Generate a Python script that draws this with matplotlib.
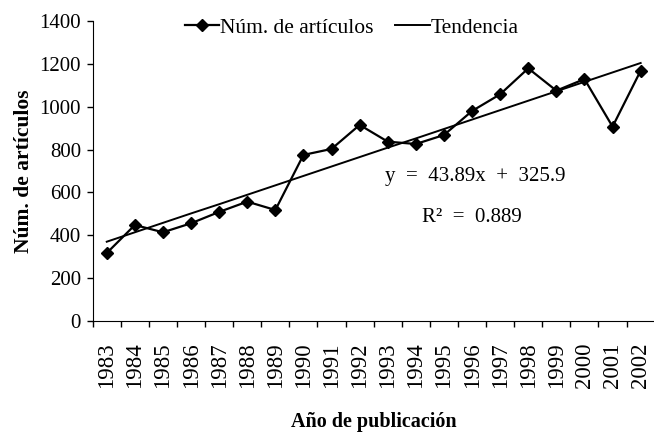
import matplotlib
import matplotlib.pyplot as plt

matplotlib.use("Agg")
plt.rcParams["font.family"] = ["Liberation Serif", "DejaVu Serif"]

years = [str(y) for y in range(1983, 2003)]
articles = [317, 448, 414, 456, 509, 557, 518, 775, 803, 915,
            837, 826, 868, 980, 1058, 1179, 1075, 1129, 907, 1168]
# trend values as drawn (y = 43.89x + 325.9)
trend = [370, 414, 458, 502, 545, 589, 633, 677, 721, 765,
         809, 852, 896, 940, 984, 1028, 1072, 1116, 1160, 1204]
yticks = [0, 200, 400, 600, 800, 1000, 1200, 1400]

fig = plt.figure(figsize=(6.54, 4.34), dpi=100)
ax = fig.add_axes([92.7 / 654, 113 / 434, 562 / 654, 300 / 434])

x = list(range(len(years)))
ax.plot(x, articles, color="black", linewidth=1.6, marker="D", markersize=6.5,
        label="Núm. de artículos")
ax.plot(x, trend, color="black", linewidth=1.4, label="Tendencia")

ax.set_xlim(-0.5, len(years) - 0.5)
ax.set_ylim(0, 1400)
ax.set_yticks(yticks)
ax.set_yticklabels([str(v) for v in yticks], fontsize=15)
ax.set_xticks([i - 0.5 for i in x] + [len(years) - 0.5], minor=False)
ax.set_xticklabels([""] * (len(years) + 1))
ax.set_xticks(x, minor=True)
ax.set_xticklabels(years, minor=True, rotation=90, fontsize=16.5)
ax.tick_params(axis="x", which="minor", length=0, pad=15.5)
ax.tick_params(axis="x", which="major", length=4.5, direction="out")
ax.tick_params(axis="y", length=4.5, direction="out", pad=4)
ax.tick_params(axis="both", width=1)
for side in ["top", "right"]:
    ax.spines[side].set_visible(False)

ax.set_ylabel("Núm. de artículos", fontsize=15.5, fontweight="bold", labelpad=4)
ax.set_xlabel("Año de publicación", fontsize=14.5, fontweight="bold", labelpad=17)

ax.text(13.1, 672, "y  =  43.89x  +  325.9", fontsize=15, ha="center", va="center")
ax.text(13.0, 481, "R²  =  0.889", fontsize=15, ha="center", va="center")

ax.legend(loc="center", bbox_to_anchor=(0.461, 0.977), ncol=2, frameon=False,
          fontsize=15.5, handlelength=1.6, handletextpad=0.05, columnspacing=1.0)

fig.savefig("out.png", dpi=100)
